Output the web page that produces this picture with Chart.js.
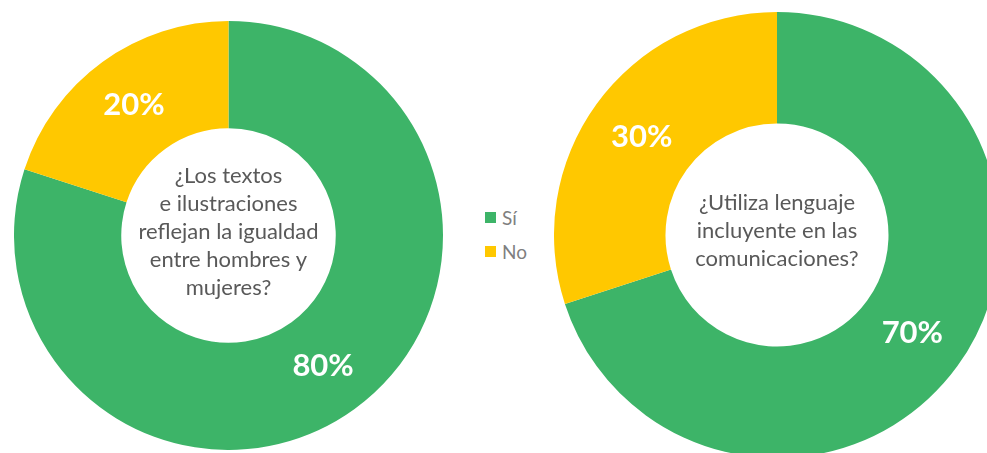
<!DOCTYPE html>
<html lang="es">
<head>
<meta charset="utf-8">
<title>Igualdad y lenguaje incluyente</title>
<script src="https://cdn.jsdelivr.net/npm/chart.js@4.4.0/dist/chart.umd.min.js"></script>
<style>
  html, body { margin: 0; padding: 0; background: #fff; }
  body { width: 987px; height: 453px; overflow: hidden; position: relative; font-family: Lato, "Open Sans", sans-serif; }
  .donut { position: absolute; }
  #legend { position: absolute; left: 485px; top: 200px; list-style: none; margin: 0; padding: 0; }
  #legend li { display: flex; align-items: center; height: 34px; color: #7f7f7f; font-size: 19px; }
  #legend span { display: inline-block; width: 11px; height: 11px; margin-right: 6px; }
</style>
</head>
<body>
<canvas id="chartIgualdad" class="donut" width="429" height="429" style="left:14px; top:21px;"></canvas>
<canvas id="chartLenguaje" class="donut" width="446" height="446" style="left:554px; top:12px;"></canvas>
<ul id="legend"></ul>

<script>
const categories = ['Sí', 'No'];
const igualdadValues = [80, 20];
const lenguajeValues = [70, 30];
const igualdadQuestion = ['¿Los textos', 'e ilustraciones', 'reflejan la igualdad', 'entre hombres y', 'mujeres?'];
const lenguajeQuestion = ['¿Utiliza lenguaje', 'incluyente en las', 'comunicaciones?'];
const sliceColors = ['#3db468', '#ffc800'];

// percent label in the middle of each ring segment
const sliceLabels = {
    id: 'sliceLabels',
    afterDatasetsDraw(chart) {
        const {ctx} = chart;
        const ds = chart.data.datasets[0];
        ctx.save();
        ctx.fillStyle = '#ffffff';
        ctx.font = 'bold 31px Lato, sans-serif';
        ctx.textAlign = 'center';
        ctx.textBaseline = 'middle';
        chart.getDatasetMeta(0).data.forEach((arc, i) => {
            const pos = arc.tooltipPosition();
            ctx.fillText(ds.data[i] + '%', pos.x, pos.y);
        });
        ctx.restore();
    }
};

// question written inside the hole
const centerText = {
    id: 'centerText',
    afterDraw(chart, args, opts) {
        const {ctx, chartArea} = chart;
        const lines = opts.lines || [];
        const lh = 28;
        const cx = (chartArea.left + chartArea.right) / 2;
        const cy = (chartArea.top + chartArea.bottom) / 2 - 4;
        ctx.save();
        ctx.fillStyle = '#595959';
        ctx.font = '22px Lato, sans-serif';
        ctx.textAlign = 'center';
        ctx.textBaseline = 'middle';
        lines.forEach((line, i) => {
            ctx.fillText(line, cx, cy + (i - (lines.length - 1) / 2) * lh);
        });
        ctx.restore();
    }
};

function makeDonut(id, values, question) {
    return new Chart(document.getElementById(id), {
        type: 'doughnut',
        data: {
            labels: categories,
            datasets: [{
                data: values,
                backgroundColor: sliceColors,
                borderWidth: 0,
                hoverOffset: 0
            }]
        },
        options: {
            responsive: false,
            animation: false,
            cutout: '50%',
            layout: {padding: 0},
            plugins: {
                legend: {display: false},
                tooltip: {enabled: false},
                centerText: {lines: question}
            }
        },
        plugins: [sliceLabels, centerText]
    });
}

makeDonut('chartIgualdad', igualdadValues, igualdadQuestion);
makeDonut('chartLenguaje', lenguajeValues, lenguajeQuestion);

const legend = document.getElementById('legend');
categories.forEach((name, i) => {
    const li = document.createElement('li');
    const box = document.createElement('span');
    box.style.background = sliceColors[i];
    li.appendChild(box);
    li.appendChild(document.createTextNode(name));
    legend.appendChild(li);
});
</script>
</body>
</html>
